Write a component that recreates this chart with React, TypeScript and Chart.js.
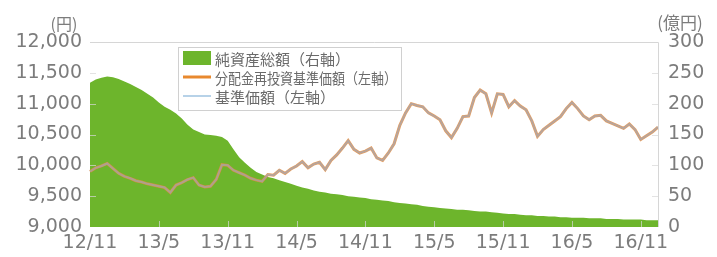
import React, { useEffect, useRef } from "react";
import { Chart, registerables } from "chart.js";

Chart.register(...registerables);

// x tick labels shown every 6 months (points are half-monthly)
const xTickLabels = ["12/11", "13/5", "13/11", "14/5", "14/11", "15/5", "15/11", "16/5", "16/11"];

// half-monthly categories from 2012/11 to 2016/12 (late)
const categories: string[] = [];
for (let i = 0; i < 100; i++) {
  const m = 10 + Math.floor(i / 2);
  const yy = 12 + Math.floor(m / 12);
  const mo = (m % 12) + 1;
  categories.push(`${yy}/${mo}/${i % 2 === 0 ? 1 : 16}`);
}

// 純資産総額 (億円, right axis)
const netAssets = [
  234, 239, 242, 244, 243, 240, 236, 232, 227, 222,
  216, 210, 202, 195, 190, 184, 176, 166, 158, 154,
  150, 149, 148, 146, 140, 126, 113, 104, 96, 89,
  85, 81, 79, 76, 73, 70, 67, 64, 62, 59,
  57, 56, 54, 53, 52, 50, 49, 48, 47, 45,
  44, 43, 42, 40, 39, 38, 37, 36, 34, 33,
  32, 31, 30, 29, 28, 28, 27, 26, 25, 25,
  24, 23, 22, 21, 21, 20, 19, 19, 18, 18,
  17, 17, 16, 16, 15, 15, 15, 14, 14, 14,
  13, 13, 13, 12, 12, 12, 12, 11, 11, 11,
];

// 分配金再投資基準価額 (円, left axis)
const reinvestedNav = [
  9900, 9960, 9990, 10030, 9950, 9870, 9820, 9790, 9750, 9730,
  9700, 9680, 9660, 9640, 9560, 9680, 9720, 9770, 9800, 9680,
  9650, 9660, 9770, 10010, 10000, 9920, 9880, 9840, 9790, 9760,
  9740, 9850, 9840, 9920, 9870, 9940, 9990, 10060, 9960, 10020,
  10050, 9930, 10080, 10170, 10280, 10400, 10260, 10200, 10230, 10280,
  10120, 10080, 10200, 10350, 10650, 10850, 11000, 10970, 10950, 10850,
  10800, 10740, 10560, 10450, 10600, 10790, 10800, 11100, 11220, 11160,
  10850, 11160, 11150, 10950, 11050, 10960, 10900, 10720, 10470, 10580,
  10650, 10720, 10790, 10920, 11020, 10920, 10800, 10740, 10800, 10810,
  10720, 10680, 10640, 10600, 10670, 10580, 10420, 10480, 10540, 10620,
];

// 基準価額 (円, left axis)
const nav = [
  9900, 9960, 9990, 10030, 9950, 9870, 9820, 9790, 9750, 9730,
  9700, 9680, 9660, 9640, 9560, 9680, 9720, 9770, 9800, 9680,
  9650, 9660, 9770, 10010, 10000, 9920, 9880, 9840, 9790, 9760,
  9740, 9850, 9840, 9920, 9870, 9940, 9990, 10060, 9960, 10020,
  10050, 9930, 10080, 10170, 10280, 10400, 10260, 10200, 10230, 10280,
  10120, 10080, 10200, 10350, 10650, 10850, 11000, 10970, 10950, 10850,
  10800, 10740, 10560, 10450, 10600, 10790, 10800, 11100, 11220, 11160,
  10850, 11160, 11150, 10950, 11050, 10960, 10900, 10720, 10470, 10580,
  10650, 10720, 10790, 10920, 11020, 10920, 10800, 10740, 10800, 10810,
  10720, 10680, 10640, 10600, 10670, 10580, 10420, 10480, 10540, 10620,
];

const legendLabels = ["純資産総額（右軸）", "分配金再投資基準価額（左軸）", "基準価額（左軸）"];
const leftUnit = "(円)";
const rightUnit = "(億円)";

const GREEN = "#6db52c";
const ORANGE = "rgba(230,140,60,0.85)";
const BLUE = "rgba(150,170,200,0.6)";
const TICK_COLOR = "#7c7c7c";
const TICK_FONT = { family: "'DejaVu Sans', sans-serif", size: 19 };
const CJK = "'Noto Sans CJK JP', sans-serif";

const overlayPlugin = {
  id: "overlay",
  afterDatasetsDraw(chart: any) {
    const { ctx, chartArea: ca, scales } = chart;
    ctx.save();
    // small inner tick marks
    ctx.strokeStyle = "rgba(215,215,215,0.7)";
    ctx.lineWidth = 1;
    const yl = scales.y;
    for (let v = 9500; v < 12000; v += 500) {
      const py = Math.round(yl.getPixelForValue(v)) + 0.5;
      ctx.beginPath();
      ctx.moveTo(ca.left, py);
      ctx.lineTo(ca.left + 6, py);
      ctx.stroke();
    }
    const yr = scales.y1;
    for (let v = 50; v < 300; v += 50) {
      const py = Math.round(yr.getPixelForValue(v)) + 0.5;
      ctx.beginPath();
      ctx.moveTo(ca.right - 6, py);
      ctx.lineTo(ca.right, py);
      ctx.stroke();
    }
    const xs = scales.x;
    for (let i = 12; i < categories.length; i += 12) {
      const px = Math.round(xs.getPixelForValue(i)) + 0.5;
      ctx.beginPath();
      ctx.moveTo(px, ca.bottom);
      ctx.lineTo(px, ca.bottom - 6);
      ctx.stroke();
    }
    // border top & right
    ctx.strokeStyle = "#d6d6d6";
    ctx.beginPath();
    ctx.moveTo(ca.left, ca.top + 0.5);
    ctx.lineTo(ca.right + 0.5, ca.top + 0.5);
    ctx.lineTo(ca.right + 0.5, ca.bottom);
    ctx.stroke();
    ctx.restore();
  },
  afterDraw(chart: any) {
    const { ctx, chartArea: ca } = chart;
    ctx.save();
    // legend box
    const lx = ca.left + 88;
    const ly = ca.top + 5;
    const lw = 223;
    const lh = 63;
    ctx.fillStyle = "#ffffff";
    ctx.fillRect(lx, ly, lw, lh);
    ctx.strokeStyle = "#d0d0d0";
    ctx.lineWidth = 1;
    ctx.strokeRect(lx + 0.5, ly + 0.5, lw, lh);

    const sx = lx + 5;
    const sw = 28;
    const rows = [ly + 11, ly + 30, ly + 49];
    // green swatch
    ctx.fillStyle = GREEN;
    ctx.fillRect(sx, rows[0] - 7, sw, 14);
    // orange line
    ctx.strokeStyle = "#e8892e";
    ctx.lineWidth = 3;
    ctx.beginPath();
    ctx.moveTo(sx, rows[1]);
    ctx.lineTo(sx + sw, rows[1]);
    ctx.stroke();
    // blue line
    ctx.strokeStyle = "#9fc3e0";
    ctx.lineWidth = 1.5;
    ctx.beginPath();
    ctx.moveTo(sx, rows[2]);
    ctx.lineTo(sx + sw, rows[2]);
    ctx.stroke();

    ctx.fillStyle = "#6a6a6a";
    ctx.font = `15px ${CJK}`;
    ctx.textBaseline = "middle";
    ctx.textAlign = "left";
    const tx = sx + sw + 4;
    ctx.fillText(legendLabels[0], tx, rows[0] + 1, 140);
    ctx.fillText(legendLabels[1], tx, rows[1] + 1, 182);
    ctx.fillText(legendLabels[2], tx, rows[2] + 1, 122);

    // unit labels
    ctx.fillStyle = "#7c7c7c";
    ctx.font = `16px ${CJK}`;
    ctx.textAlign = "center";
    ctx.fillText(leftUnit, 64, 24);
    ctx.font = `17px ${CJK}`;
    ctx.fillText(rightUnit, 680, 23);
    ctx.restore();
  },
};

export default function App() {
  const canvasRef = useRef<HTMLCanvasElement | null>(null);

  useEffect(() => {
    if (!canvasRef.current) return;
    const chart = new Chart(canvasRef.current, {
      type: "line",
      data: {
        labels: categories,
        datasets: [
          {
            label: legendLabels[2],
            data: nav,
            yAxisID: "y",
            borderColor: BLUE,
            borderWidth: 2,
            pointRadius: 0,
            fill: false,
            tension: 0,
            order: 1,
          },
          {
            label: legendLabels[1],
            data: reinvestedNav,
            yAxisID: "y",
            borderColor: ORANGE,
            borderWidth: 3,
            pointRadius: 0,
            fill: false,
            tension: 0,
            order: 2,
          },
          {
            label: legendLabels[0],
            data: netAssets,
            yAxisID: "y1",
            borderWidth: 0,
            borderColor: GREEN,
            backgroundColor: GREEN,
            pointRadius: 0,
            fill: "origin",
            tension: 0,
            order: 3,
          },
        ],
      },
      options: {
        animation: false,
        responsive: true,
        maintainAspectRatio: false,
        layout: { padding: { top: 42, left: 0, right: 0, bottom: 0 } },
        plugins: {
          legend: { display: false },
          tooltip: { enabled: false },
        },
        scales: {
          x: {
            type: "category",
            offset: false,
            grid: { display: false, drawTicks: false },
            border: { display: false },
            ticks: {
              autoSkip: false,
              maxRotation: 0,
              minRotation: 0,
              padding: 5,
              color: TICK_COLOR,
              font: TICK_FONT,
              callback: (_v: any, index: number) =>
                index % 12 === 0 ? xTickLabels[index / 12] : null,
            },
            afterFit: (s: any) => {
              s.height = 30;
            },
          },
          y: {
            position: "left",
            min: 9000,
            max: 12000,
            grid: { display: false, drawTicks: false },
            border: { display: false },
            ticks: {
              stepSize: 500,
              padding: 8,
              color: TICK_COLOR,
              font: TICK_FONT,
              callback: (v: any) => Number(v).toLocaleString("en-US"),
            },
            afterFit: (s: any) => {
              s.width = 90;
            },
          },
          y1: {
            position: "right",
            min: 0,
            max: 300,
            grid: { display: false, drawTicks: false },
            border: { display: false },
            ticks: {
              stepSize: 50,
              padding: 10,
              color: TICK_COLOR,
              font: TICK_FONT,
            },
            afterFit: (s: any) => {
              s.width = 59;
            },
          },
        },
      },
      plugins: [overlayPlugin],
    });
    return () => chart.destroy();
  }, []);

  return (
    <div
      style={{
        position: "fixed",
        left: 0,
        top: 0,
        width: 717,
        height: 257,
        background: "#ffffff",
      }}
    >
      <canvas ref={canvasRef} />
    </div>
  );
}
